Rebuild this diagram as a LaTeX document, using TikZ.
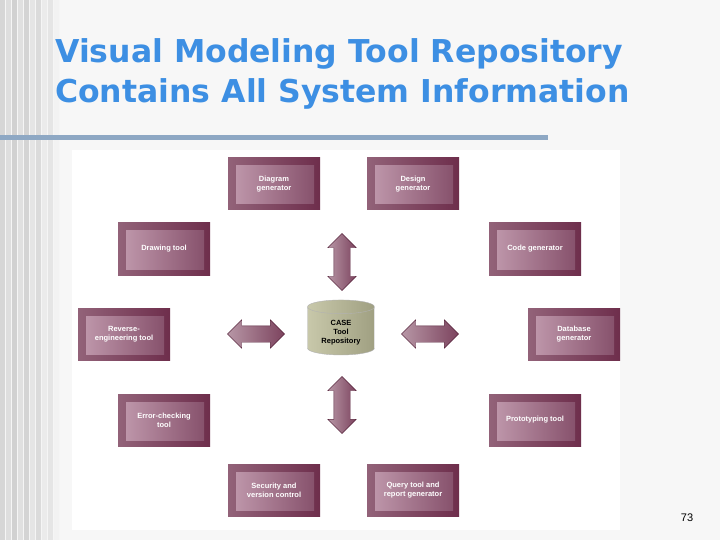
\documentclass[tikz,border=0pt]{standalone}
\usepackage{fontspec}
\setmainfont{Liberation Sans}
\newfontfamily\titlefont{DejaVu Sans}
\usetikzlibrary{shapes.geometric,shapes.arrows}
\definecolor{maroon}{HTML}{6E2E4C}
\definecolor{inner}{HTML}{9A5A7A}
\definecolor{titleblue}{HTML}{3D8FE3}
\tikzset{
 box/.style={minimum width=92pt,minimum height=52pt,draw=none,left color=maroon!75,right color=maroon,
   path picture={\fill[left color=inner!60!white,right color=inner!85!black]
     ([xshift=8pt,yshift=-8pt]path picture bounding box.north west) rectangle ([xshift=-6pt,yshift=6pt]path picture bounding box.south east);},
   text=white,font=\bfseries\fontsize{7.5}{9}\selectfont,align=center},
 dbl/.style={double arrow,draw=maroon!80!black,left color=maroon!50,right color=maroon!90,
   double arrow head extend=6pt,minimum height=57pt,inner xsep=0pt,inner ysep=8pt},
}
\begin{document}
\begin{tikzpicture}[x=1pt,y=-1pt]
\useasboundingbox (0,0) rectangle (720,540);
\fill[gray!8] (0,0) rectangle (720,540);
\foreach \x/\c in {0/16,6/13,12/18,18/12,24/17,30/10,36/14,42/8,48/10,54/5}
  \fill[black!\c] (\x,0) rectangle ++(5,540);
\fill[white!94!gray] (60,0) rectangle (720,540);
\node[anchor=north west,text=titleblue,font=\titlefont\bfseries\fontsize{31.5}{40}\selectfont,align=left,inner sep=0pt] (title) at (55,38) {Visual Modeling Tool Repository\\Contains All System Information};
\fill[color={rgb,255:red,142;green,168;blue,196}] (0,135) rectangle (548,140);
\fill[white] (72,150) rectangle (620,530);
\node[box] (dg) at (274,184) {Diagram\\generator};
\node[box] (deg) at (413,184) {Design\\generator};
\node[box] (dt) at (164,249) {Drawing tool};
\node[box] (cg) at (535,249) {Code generator};
\node[box] (re) at (124,334) {Reverse-\\engineering tool};
\node[box] (db) at (574,334) {Database\\generator};
\node[box] (ec) at (164,420) {Error-checking\\tool};
\node[box] (pt) at (535,420) {Prototyping tool};
\node[box] (sv) at (274,490) {Security and\\version control};
\node[box] (qt) at (413,490) {Query tool and\\report generator};
\node[cylinder,shape border rotate=90,aspect=0.35,minimum width=67pt,minimum height=55pt,draw=gray!60,
  left color={rgb,255:red,200;green,200;blue,170},right color={rgb,255:red,160;green,160;blue,130},
  font=\bfseries\fontsize{7.5}{9}\selectfont,align=center,inner sep=0pt] (repo) at (341,331) {\\CASE\\Tool\\Repository};
\node[dbl,rotate=90] (au) at (342,262) {};
\node[dbl,rotate=90] (ad) at (342,405) {};
\node[dbl] (al) at (256,334) {};
\node[dbl] (ar) at (430,334) {};
\node[font=\fontsize{11}{13}\selectfont] (pg) at (687,518) {73};
\end{tikzpicture}
\end{document}
